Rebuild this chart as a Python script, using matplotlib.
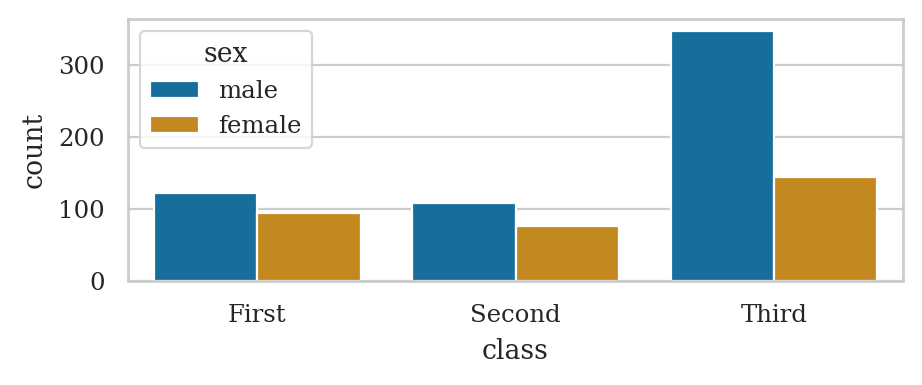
import matplotlib
matplotlib.use("Agg")
import matplotlib.pyplot as plt
import seaborn as sns
import pandas as pd

classes = ["First", "Second", "Third"]
sexes = ["male", "female"]
male_counts = [122, 108, 347]
female_counts = [94, 76, 144]

sns.set_theme(context="paper", style="whitegrid", font="serif", palette="colorblind")
plt.rcParams['font.family'] = ['serif']

df = pd.DataFrame({
    "class": classes * 2,
    "sex": ["male"] * 3 + ["female"] * 3,
    "count": male_counts + female_counts,
})

fig = plt.figure(figsize=(4.61, 1.925), dpi=200)
ax = fig.add_axes([128/922, 1-281/385, (903-128)/922, (281-19)/385])
sns.barplot(data=df, x="class", y="count", hue="sex", order=classes, hue_order=sexes, ax=ax)
ax.set_xlabel("class")
ax.set_ylabel("count")
sns.move_legend(ax, "upper left", title="sex")
fig.savefig("out.png", dpi=200)
